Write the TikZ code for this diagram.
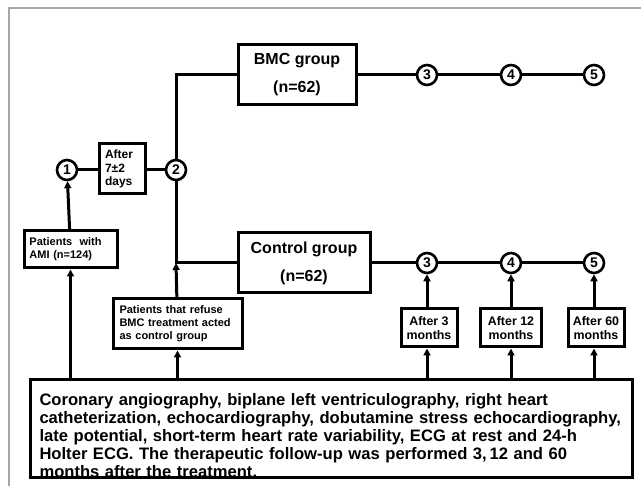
\documentclass[tikz,border=0pt]{standalone}
\usepackage{fontspec}
\setmainfont{Liberation Sans}
\usepackage{tikz}
\usetikzlibrary{arrows.meta,calc,positioning}
\tikzset{box/.style={draw,line width=3pt,align=center,inner sep=2pt,font=\bfseries\fontsize{16}{28}\selectfont},
  small/.style={draw,line width=3pt,align=left,inner sep=2pt,font=\bfseries\fontsize{11}{13}\selectfont},
  later/.style={small,align=center,minimum height=38pt,font=\bfseries\fontsize{12.4}{14}\selectfont},
  stage/.style={draw,circle,line width=2.6pt,minimum size=20pt,inner sep=0pt,fill=white,font=\bfseries\fontsize{14}{14}\selectfont},
  link/.style={line width=3pt},
  arr/.style={line width=3pt,-{Triangle[length=7pt,width=7pt]}}}

\begin{document}
\begin{tikzpicture}[x=1pt,y=-1pt]
\useasboundingbox (0,0) rectangle (641,486);
\draw[gray!70,line width=1.2pt] (9,8) rectangle (680,520);
% groups
\node[box,minimum width=118pt,minimum height=60pt] (bmc) at (297,75) {BMC group\\(n=62)};
\node[box,minimum width=132pt,minimum height=60pt] (ctrl) at (304,263) {Control group\\(n=62)};
% time points
\node[stage] (c1) at (67,170) {1};
\node[stage] (c2) at (176,170) {2};
\node[small,minimum width=46pt,minimum height=50pt,text width=34pt,font=\bfseries\fontsize{12}{13.5}\selectfont] (wait) at (122,169) {After\\7\char"00B1 2\\days};
\foreach \n/\x in {3/427,4/511,5/594}{
  \node[stage] (a\n) at (\x,75) {\n};
  \node[stage] (b\n) at (\x,263) {\n};}
\node[later,minimum width=56pt] (m3) at (429,328) {After 3\\months};
\node[later,minimum width=61pt] (m12) at (511,328) {After 12\\months};
\node[later,minimum width=56pt] (m60) at (596,328) {After 60\\months};
% patients
\node[small,minimum width=93pt,minimum height=37pt,text width=82pt] (ami) at (70.5,249.5) {Patients\ \ with\\AMI (n=124)};
\node[small,minimum width=129pt,minimum height=50pt,text width=116pt] (refuse) at (177.5,324) {Patients that refuse\\BMC treatment acted\\ as control group};
\node[draw,line width=3pt,anchor=north west,text width=584pt,align=left,inner xsep=9pt,inner ysep=0pt,
  font=\bfseries\fontsize{16.6}{18}\selectfont] (info) at (29,378) {\lineskiplimit=-20pt\rule{0pt}{26pt}Coronary angiography, biplane left ventriculography, right heart\\
catheterization, echocardiography, dobutamine stress echocardiography,\\
late potential, short-term heart rate variability, ECG at rest and 24-h\\
Holter ECG. The therapeutic follow-up was performed 3,\,12 and 60\\
months after the treatment.\\[30pt]};
% connectors
\draw[link] (c1) -- (c1 -| wait.west);
\draw[link] (c2 -| wait.east) -- (c2);
\draw[link] (c2) |- (bmc.west);
\draw[link] (c2) |- (ctrl.west);
\coordinate (j) at (c2 |- ctrl.west);
\draw[link] (bmc.east) -- (a3) -- (a4) -- (a5);
\draw[link] (ctrl.east) -- (b3) -- (b4) -- (b5);
\draw[arr] (ami) -- (c1);
\draw[arr] (info.north -| ami) -- (ami);
\draw[arr] (info.north -| refuse) -- (refuse);
\draw[arr] (refuse) -- (j);
\foreach \n/\m in {3/m3,4/m12,5/m60}{
  \draw[arr] (info.north -| b\n) -- (\m.south -| b\n);
  \draw[arr] (\m.north -| b\n) -- (b\n);}
\end{tikzpicture}
\end{document}
